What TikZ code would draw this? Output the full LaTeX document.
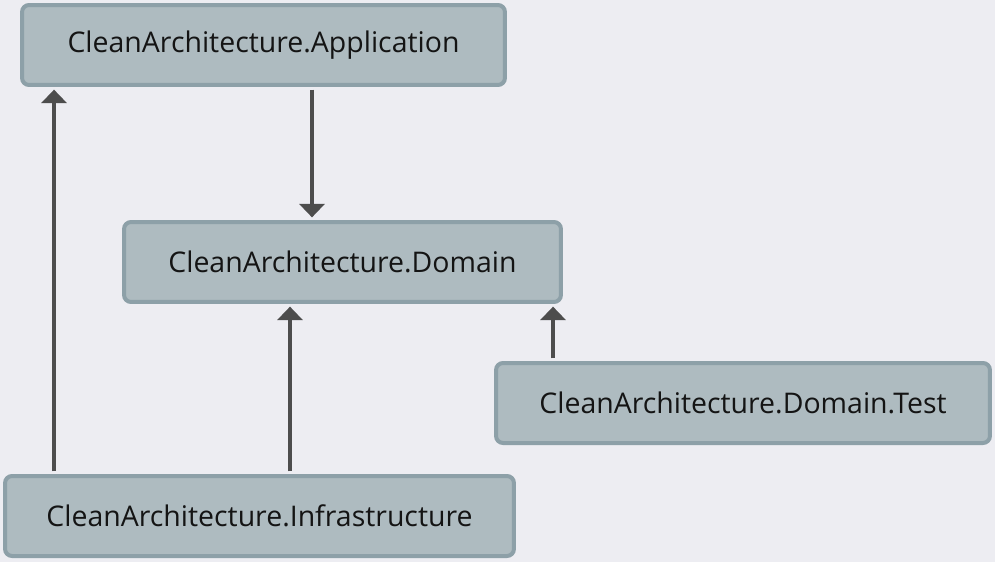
\documentclass[tikz,border=0pt]{standalone}
\usepackage{fontspec}
\setmainfont{Open Sans}
\usepackage{tikz}
\usetikzlibrary{arrows.meta,positioning}
\definecolor{canvas}{HTML}{EDEDF2}
\definecolor{modfill}{HTML}{AEBBC0}
\definecolor{modline}{HTML}{8DA0A8}
\definecolor{depline}{HTML}{4D4D4D}

\begin{document}
\begin{tikzpicture}[x=0.02cm,y=-0.02cm,
    module/.style={draw=modline,fill=modfill,line width=0.08cm,rounded corners=0.14cm,
        minimum height=1.6cm,inner sep=0pt,text=black!92,font=\fontsize{16.2}{18}\selectfont},
    dep/.style={draw=depline,line width=2.4pt,shorten <=1.5pt,shorten >=1.5pt,
        -{Triangle[width=0.5cm,length=0.27cm]}}]
            % canvas
            \fill[canvas] (0,0) rectangle (995,562);

            % modules
            \node[module,minimum width=9.66cm] (app) at (263.5,45) {CleanArchitecture.Application};
            \node[module,minimum width=8.74cm] (dom) at (342.5,262) {CleanArchitecture.Domain};
            \node[module,minimum width=9.88cm] (test) at (743,403) {CleanArchitecture.Domain.Test};
            \node[module,minimum width=10.18cm] (infra) at (259.5,516) {CleanArchitecture.Infrastructure};

            % references
            \draw[dep] ([xshift=1.02cm]infra.north west) -- ([xshift=1.02cm]infra.north west |- app.south);
            \draw[dep] ([xshift=5.84cm]app.south west) -- ([xshift=5.84cm]app.south west |- dom.north);
            \draw[dep] ([xshift=5.74cm]infra.north west) -- ([xshift=5.74cm]infra.north west |- dom.south);
            \draw[dep] ([xshift=1.18cm]test.north west) -- ([xshift=1.18cm]test.north west |- dom.south);
\end{tikzpicture}
\end{document}
